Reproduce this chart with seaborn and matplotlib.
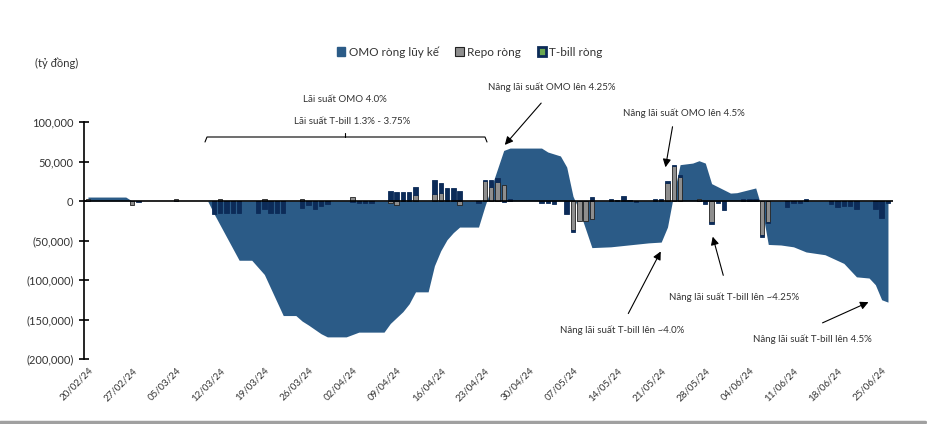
import matplotlib
matplotlib.use("Agg")

import matplotlib.pyplot as plt
import matplotlib.dates as mdates
from matplotlib.lines import Line2D
from matplotlib.patches import Patch
import pandas as pd
import seaborn as sns


# =========================================================
# DATA
# =========================================================

omo_dates = [
    "2024-02-20", "2024-02-26", "2024-02-27", "2024-03-10", "2024-03-11",
    "2024-03-15", "2024-03-17", "2024-03-19", "2024-03-22", "2024-03-24",
    "2024-03-25", "2024-03-26", "2024-03-28", "2024-03-29", "2024-04-01",
    "2024-04-03", "2024-04-07", "2024-04-08", "2024-04-10", "2024-04-11",
    "2024-04-12", "2024-04-14", "2024-04-15", "2024-04-16", "2024-04-17",
    "2024-04-18", "2024-04-19", "2024-04-22", "2024-04-23", "2024-04-26",
    "2024-04-27", "2024-05-02", "2024-05-03", "2024-05-05", "2024-05-06",
    "2024-05-07", "2024-05-08", "2024-05-10", "2024-05-13", "2024-05-16",
    "2024-05-19", "2024-05-21", "2024-05-22", "2024-05-23", "2024-05-24",
    "2024-05-26", "2024-05-27", "2024-05-28", "2024-05-29", "2024-05-31",
    "2024-06-01", "2024-06-02", "2024-06-05", "2024-06-06", "2024-06-07",
    "2024-06-09", "2024-06-11", "2024-06-13", "2024-06-16", "2024-06-19",
    "2024-06-21", "2024-06-23", "2024-06-24", "2024-06-25", "2024-06-26",
]
omo_values = [
    5000, 5000, 0, 0, -16000,
    -75000, -75000, -93000, -145000, -145000,
    -152000, -157000, -168000, -172000, -172000,
    -166000, -166000, -155000, -140000, -130000,
    -115000, -115000, -82000, -63000, -49000,
    -40000, -33000, -33000, -7000, 64000,
    67000, 67000, 62000, 57000, 43000,
    6000, -12000, -59000, -58000, -55500,
    -53000, -52000, -33000, 9000, 46000,
    48000, 51000, 48000, 22000, 14000,
    10000, 10500, 16500, -10000, -55000,
    -55700, -58000, -64500, -68000, -79000,
    -96000, -97500, -106000, -125000, -128000,
]

repo_dates = [
    "2024-02-20", "2024-02-27", "2024-03-05", "2024-03-12", "2024-03-19",
    "2024-03-25", "2024-04-02", "2024-04-08", "2024-04-09", "2024-04-12",
    "2024-04-15", "2024-04-16", "2024-04-19", "2024-04-23", "2024-04-24",
    "2024-04-25", "2024-04-26", "2024-05-07", "2024-05-08", "2024-05-09",
    "2024-05-10", "2024-05-22", "2024-05-23", "2024-05-24", "2024-05-27",
    "2024-05-29", "2024-06-06", "2024-06-07",
]
repo_values = [
    3000, -5000, 2000, 3000, 3000,
    3000, 5000, -3000, -5000, 7500,
    9000, 10000, -5000, 25000, 18000,
    24000, 20000, -37000, -25000, -25000,
    -23000, 23000, 44000, 31000, 3000,
    -26000, -43000, -26000,
]

tbill_dates = [
    "2024-02-28",
    "2024-03-11", "2024-03-12", "2024-03-13", "2024-03-14", "2024-03-15",
    "2024-03-18", "2024-03-19", "2024-03-20", "2024-03-21", "2024-03-22",
    "2024-03-25", "2024-03-26", "2024-03-27", "2024-03-28", "2024-03-29",
    "2024-04-02", "2024-04-03", "2024-04-04", "2024-04-05",
    "2024-04-08", "2024-04-09", "2024-04-10", "2024-04-11", "2024-04-12",
    "2024-04-15", "2024-04-16", "2024-04-17", "2024-04-18", "2024-04-19",
    "2024-04-22", "2024-04-23", "2024-04-24", "2024-04-25", "2024-04-26",
    "2024-04-27", "2024-05-02", "2024-05-03", "2024-05-04",
    "2024-05-06", "2024-05-07", "2024-05-10",
    "2024-05-13", "2024-05-14", "2024-05-15", "2024-05-16", "2024-05-17",
    "2024-05-20", "2024-05-21", "2024-05-22", "2024-05-23", "2024-05-24",
    "2024-05-28", "2024-05-29", "2024-05-30", "2024-05-31",
    "2024-06-03", "2024-06-04", "2024-06-05", "2024-06-06", "2024-06-07",
    "2024-06-10", "2024-06-11", "2024-06-12", "2024-06-13",
    "2024-06-17", "2024-06-18", "2024-06-19", "2024-06-20", "2024-06-21",
    "2024-06-24", "2024-06-25", "2024-06-26",
]
tbill_values = [
    -1000,
    -16000, -15000, -15000, -15000, -15000,
    -15000, -10000, -15000, -15000, -15000,
    -9000, -5000, -10000, -6000, -4000,
    -1000, -2000, -2000, -2000,
    13000, 12000, 12000, 11000, 10500,
    17000, 13000, 17000, 17000, 13000,
    -3000, 1500, 9000, 5000, -1500,
    2000, -2000, -3000, -4000,
    -16000, -2000, 5000,
    2000, 1000, 6000, 1000, -1000,
    2000, 2000, 2000, 2000, 2000,
    -4000, -3000, -3000, -12000,
    2000, 2000, 2000, -2000, -2000,
    -7000, -2000, -3000, 3000,
    -4000, -7000, -6000, -6000, -10000,
    -10000, -22000, -2000,
]

tick_labels = [
    "20/02/24", "27/02/24", "05/03/24", "12/03/24", "19/03/24",
    "26/03/24", "02/04/24", "09/04/24", "16/04/24", "23/04/24",
    "30/04/24", "07/05/24", "14/05/24", "21/05/24", "28/05/24",
    "04/06/24", "11/06/24", "18/06/24", "25/06/24",
]

legend_labels = ["OMO ròng lũy kế", "Repo ròng", "T-bill ròng"]


# =========================================================
# STYLE
# =========================================================

sns.set_theme(style="white")
plt.rcParams["font.family"] = ["Lato", "Noto Sans", "DejaVu Sans"]

AREA_COLOR = "#2B5B87"
NAVY = "#0C2B58"
GREY = "#8E8E8E"
TEXT = "#333333"

W, H = 927, 424


def _px(x, y):
    """
    Convert reference pixel position into axes fraction.
    """

    return ((x - 84) / 809, (359 - y) / 237)


# =========================================================
# FIGURE
# =========================================================

fig = plt.figure(figsize=(W / 100, H / 100), dpi=100)
ax = fig.add_axes([84 / W, 1 - 359 / H, 809 / W, 237 / H])

omo = pd.DataFrame({"date": pd.to_datetime(omo_dates), "value": omo_values})
repo = pd.DataFrame({"date": pd.to_datetime(repo_dates), "repo": repo_values})
tbill = pd.DataFrame({"date": pd.to_datetime(tbill_dates), "tbill": tbill_values})

bars = pd.merge(repo, tbill, on="date", how="outer").fillna(0)
same_sign = (bars["repo"] * bars["tbill"]) > 0
bars["bottom"] = bars["repo"].where(same_sign, 0)

ax.fill_between(
    omo["date"],
    omo["value"],
    0,
    color=AREA_COLOR,
    linewidth=0,
    zorder=1,
)

bar_width = 0.7

ax.bar(
    bars["date"],
    bars["repo"],
    width=bar_width,
    color=GREY,
    edgecolor="#222222",
    linewidth=0.6,
    zorder=3,
)

ax.bar(
    bars["date"],
    bars["tbill"],
    bottom=bars["bottom"],
    width=bar_width,
    color=NAVY,
    edgecolor=NAVY,
    linewidth=0.6,
    zorder=3,
)

ax.axhline(0, color="black", linewidth=1.2, zorder=4)

start = pd.Timestamp("2024-02-20")
ax.set_xlim(
    mdates.date2num(start) - 0.63,
    mdates.date2num(start) + 127.8,
)
ax.set_ylim(-200000, 100000)

tick_pos = pd.to_datetime(tick_labels, format="%d/%m/%y")
ax.set_xticks(tick_pos)
ax.set_xticklabels(
    tick_labels,
    rotation=45,
    ha="right",
    rotation_mode="anchor",
    fontsize=7,
    color=TEXT,
)
ax.tick_params(axis="x", length=0, pad=5)

ax.set_yticks(range(-200000, 100001, 50000))
ax.yaxis.set_major_formatter(
    plt.FuncFormatter(
        lambda v, _: f"({abs(v):,.0f})" if v < 0 else f"{v:,.0f}"
    )
)
ax.tick_params(
    axis="y",
    direction="inout",
    length=7,
    width=1.2,
    color="black",
    labelsize=8,
    labelcolor=TEXT,
    pad=4,
    left=True,
)

for side in ["top", "right", "bottom"]:
    ax.spines[side].set_visible(False)

ax.spines["left"].set_color("black")
ax.spines["left"].set_linewidth(1.2)
ax.grid(False)

fig.text(35 / W, 1 - 63 / H, "(tỷ đồng)", fontsize=8, color=TEXT, va="center")


# =========================================================
# LEGEND
# =========================================================

handles = [
    Patch(facecolor=AREA_COLOR, edgecolor=AREA_COLOR),
    Patch(facecolor=GREY, edgecolor="#222222", linewidth=0.8),
    Patch(facecolor="#6AA84F", edgecolor=NAVY, linewidth=2),
]

fig.legend(
    handles,
    legend_labels,
    loc="center",
    bbox_to_anchor=(470 / W, 1 - 52 / H),
    ncol=3,
    frameon=False,
    fontsize=8.5,
    handlelength=0.7,
    handleheight=0.7,
    handletextpad=0.3,
    columnspacing=1.4,
    labelcolor=TEXT,
)


# =========================================================
# ANNOTATIONS
# =========================================================

note_style = dict(fontsize=7, color=TEXT, ha="center", va="center")
arrow_style = dict(arrowstyle="-|>", color="black", lw=0.8, mutation_scale=12)

ax.text(*_px(345, 100), "Lãi suất OMO 4.0%", transform=ax.transAxes, **note_style)
ax.text(*_px(352, 121), "Lãi suất T-bill 1.3% - 3.75%", transform=ax.transAxes, **note_style)

bracket = [
    ([205, 207, 485, 487], [142, 137, 137, 142]),
    ([345, 345], [137, 133]),
]
for xs, ys in bracket:
    pts = [_px(x, y) for x, y in zip(xs, ys)]
    ax.add_line(
        Line2D(
            [p[0] for p in pts],
            [p[1] for p in pts],
            transform=ax.transAxes,
            color="black",
            linewidth=0.8,
            clip_on=False,
        )
    )

notes = [
    ("Nâng lãi suất OMO lên 4.25%", (552, 87), (543, 101), (503, 147)),
    ("Nâng lãi suất OMO lên 4.5%", (684, 113), (673, 124), (665, 170)),
    ("Nâng lãi suất T-bill lên ~4.0%", (622, 330), (627, 316), (662, 249)),
    ("Nâng lãi suất T-bill lên ~4.25%", (734, 297), (724, 278), (712, 234)),
    ("Nâng lãi suất T-bill lên 4.5%", (812, 339), (820, 324), (871, 301)),
]

for label, text_xy, tail, head in notes:
    ax.text(*_px(*text_xy), label, transform=ax.transAxes, **note_style)
    ax.annotate(
        "",
        xy=_px(*head),
        xytext=_px(*tail),
        xycoords="axes fraction",
        textcoords="axes fraction",
        arrowprops=arrow_style,
        annotation_clip=False,
    )

fig.add_artist(
    Line2D(
        [0, 925 / W],
        [1 - 422 / H, 1 - 422 / H],
        transform=fig.transFigure,
        color="#A0A0A0",
        linewidth=2.5,
    )
)

fig.savefig("out.png", dpi=100, facecolor="white")
